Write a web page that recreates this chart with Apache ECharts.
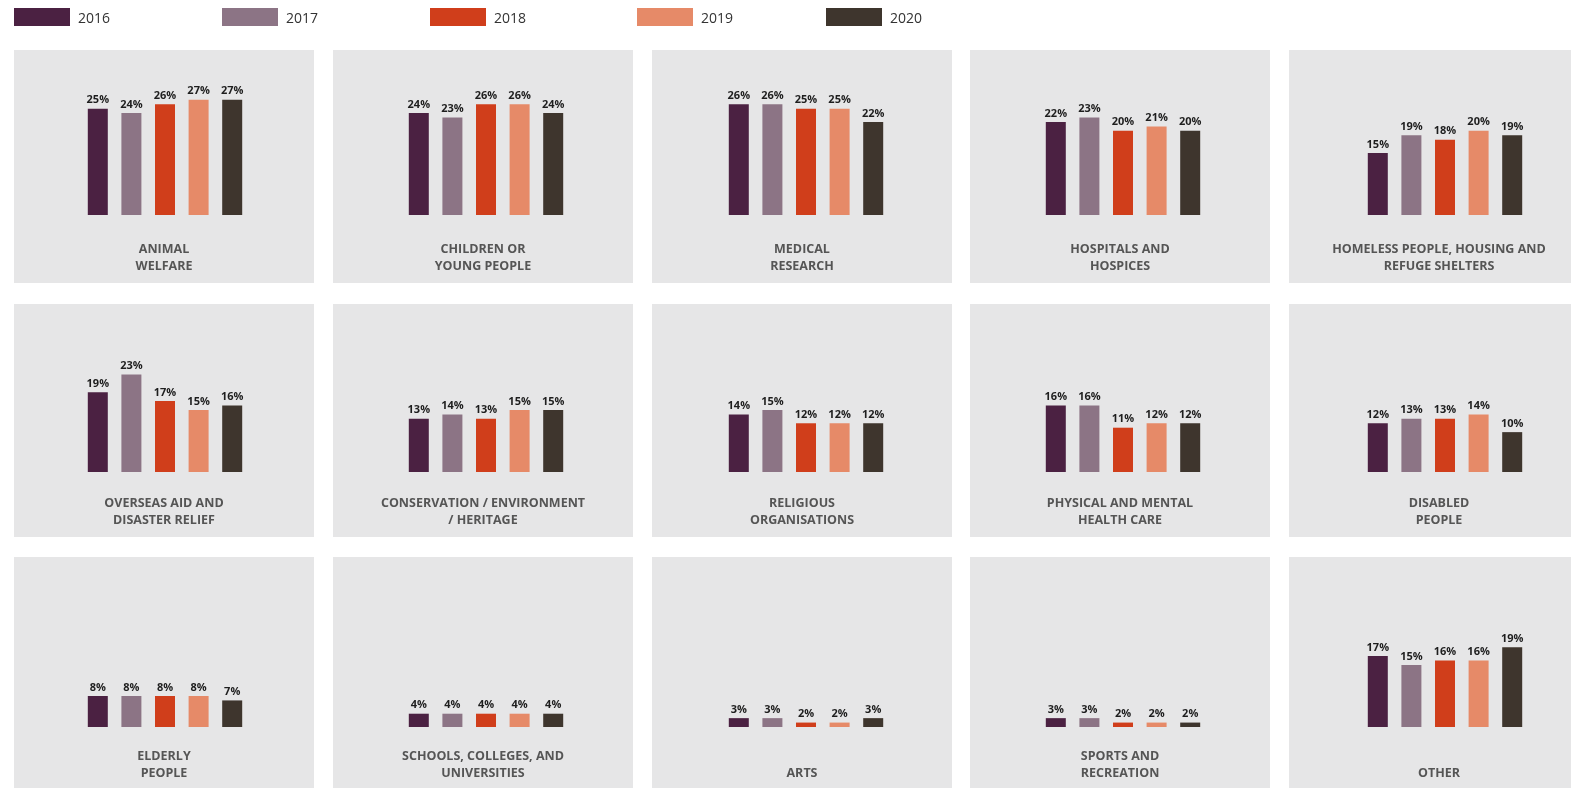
<!DOCTYPE html>
<html>
<head>
<meta charset="utf-8">
<script src="https://cdn.jsdelivr.net/npm/echarts@6/dist/echarts.min.js"></script>
<style>
html,body{margin:0;padding:0;background:#fff;}
#chart{width:1571px;height:788px;}
</style>
</head>
<body>
<div id="chart"></div>
<script>
const categories = [
  'ANIMAL\nWELFARE', 'CHILDREN OR\nYOUNG PEOPLE', 'MEDICAL\nRESEARCH', 'HOSPITALS AND\nHOSPICES',
  'HOMELESS PEOPLE, HOUSING AND\nREFUGE SHELTERS',
  'OVERSEAS AID AND\nDISASTER RELIEF', 'CONSERVATION / ENVIRONMENT\n/ HERITAGE', 'RELIGIOUS\nORGANISATIONS',
  'PHYSICAL AND MENTAL\nHEALTH CARE', 'DISABLED\nPEOPLE',
  'ELDERLY\nPEOPLE', 'SCHOOLS, COLLEGES, AND\nUNIVERSITIES', 'ARTS', 'SPORTS AND\nRECREATION', 'OTHER'
];
const years = ['2016', '2017', '2018', '2019', '2020'];
const v2016 = [25, 24, 26, 22, 15, 19, 13, 14, 16, 12, 8, 4, 3, 3, 17];
const v2017 = [24, 23, 26, 23, 19, 23, 14, 15, 16, 13, 8, 4, 3, 3, 15];
const v2018 = [26, 26, 25, 20, 18, 17, 13, 12, 11, 13, 8, 4, 2, 2, 16];
const v2019 = [27, 26, 25, 21, 20, 15, 15, 12, 12, 14, 8, 4, 2, 2, 16];
const v2020 = [27, 24, 22, 20, 19, 16, 15, 12, 12, 10, 7, 4, 3, 2, 19];
const valuesByYear = [v2016, v2017, v2018, v2019, v2020];

const colors = ['#4b2142', '#8c7485', '#d03e1b', '#e68a68', '#3e352d'];
const panelBg = '#e6e6e7';
const panelLeft = [14, 333, 652, 970, 1289];
const barShift = [1, 3, 4, 3, 6];
const labelShift = [0, 0, 0, 0, 0];
const panelW = 300;
const rowTop = [50, 304, 557];
const rowH = [233, 233, 240];
const rowBase = [215, 472, 727];
const rowLabelBottom = [275, 529, 782];
const yMin = 1, yMax = 30, pxPer = 4.43;
const gridH = (yMax - yMin) * pxPer;
const gridW = 168;

const chart = echarts.init(document.getElementById('chart'), null, {renderer: 'canvas'});

const graphic = [];
const grid = [], xAxis = [], yAxis = [], series = [];
categories.forEach((cat, g) => {
  const r = Math.floor(g / 5), c = g % 5;
  graphic.push({
    type: 'rect', silent: true, z: -10,
    shape: {x: panelLeft[c], y: rowTop[r], width: panelW, height: rowH[r]},
    style: {fill: panelBg}
  });
  const cx = panelLeft[c] + panelW / 2 + barShift[c];
  grid.push({
    left: cx - gridW / 2, width: gridW,
    top: rowBase[r] - gridH, height: gridH
  });
  const off = barShift[c] - labelShift[c];
  xAxis.push({
    type: 'category', gridIndex: g, data: years,
    axisLine: {show: false}, axisTick: {show: false}, axisLabel: {show: false},
    name: cat, nameLocation: 'middle', nameGap: rowLabelBottom[r] - rowBase[r],
    nameTextStyle: {
      fontFamily: 'Open Sans', fontWeight: 'bold', fontSize: 12.5, color: '#555',
      lineHeight: 17, verticalAlign: 'bottom', align: 'center',
      padding: [0, 2 * off, 0, 0]
    }
  });
  yAxis.push({
    type: 'value', gridIndex: g, min: yMin, max: yMax, show: false,
    splitLine: {show: false}
  });
  years.forEach((yr, j) => {
    const data = years.map((_, k) => k === j ? valuesByYear[j][g] : '-');
    series.push({
      type: 'bar', name: yr, xAxisIndex: g, yAxisIndex: g,
      data: data, barWidth: 20, barGap: '-100%',
      itemStyle: {color: colors[j]},
      label: {
        show: true, position: 'top', distance: 3,
        formatter: '{c}%', fontFamily: 'Open Sans', fontWeight: 'bold',
        fontSize: 11, color: '#1e1e1e'
      },
      animation: false
    });
  });
});

const legendLeft = [14, 222, 430, 637, 826];
const legend = years.map((yr, j) => ({
  data: [yr], left: legendLeft[j], top: 8, padding: 0, itemWidth: 56, itemHeight: 18,
  icon: 'rect', itemGap: 0, selectedMode: false,
  formatter: '{t|{name}}',
  textStyle: {
    fontFamily: 'Open Sans', fontSize: 14, color: '#333',
    rich: {t: {fontFamily: 'Open Sans', fontSize: 14, color: '#333', padding: [5, 0, 0, 3]}}
  }
}));

chart.setOption({
  backgroundColor: '#ffffff',
  color: colors,
  animation: false,
  graphic: graphic,
  legend: legend,
  grid: grid,
  xAxis: xAxis,
  yAxis: yAxis,
  series: series
});
</script>
</body>
</html>
